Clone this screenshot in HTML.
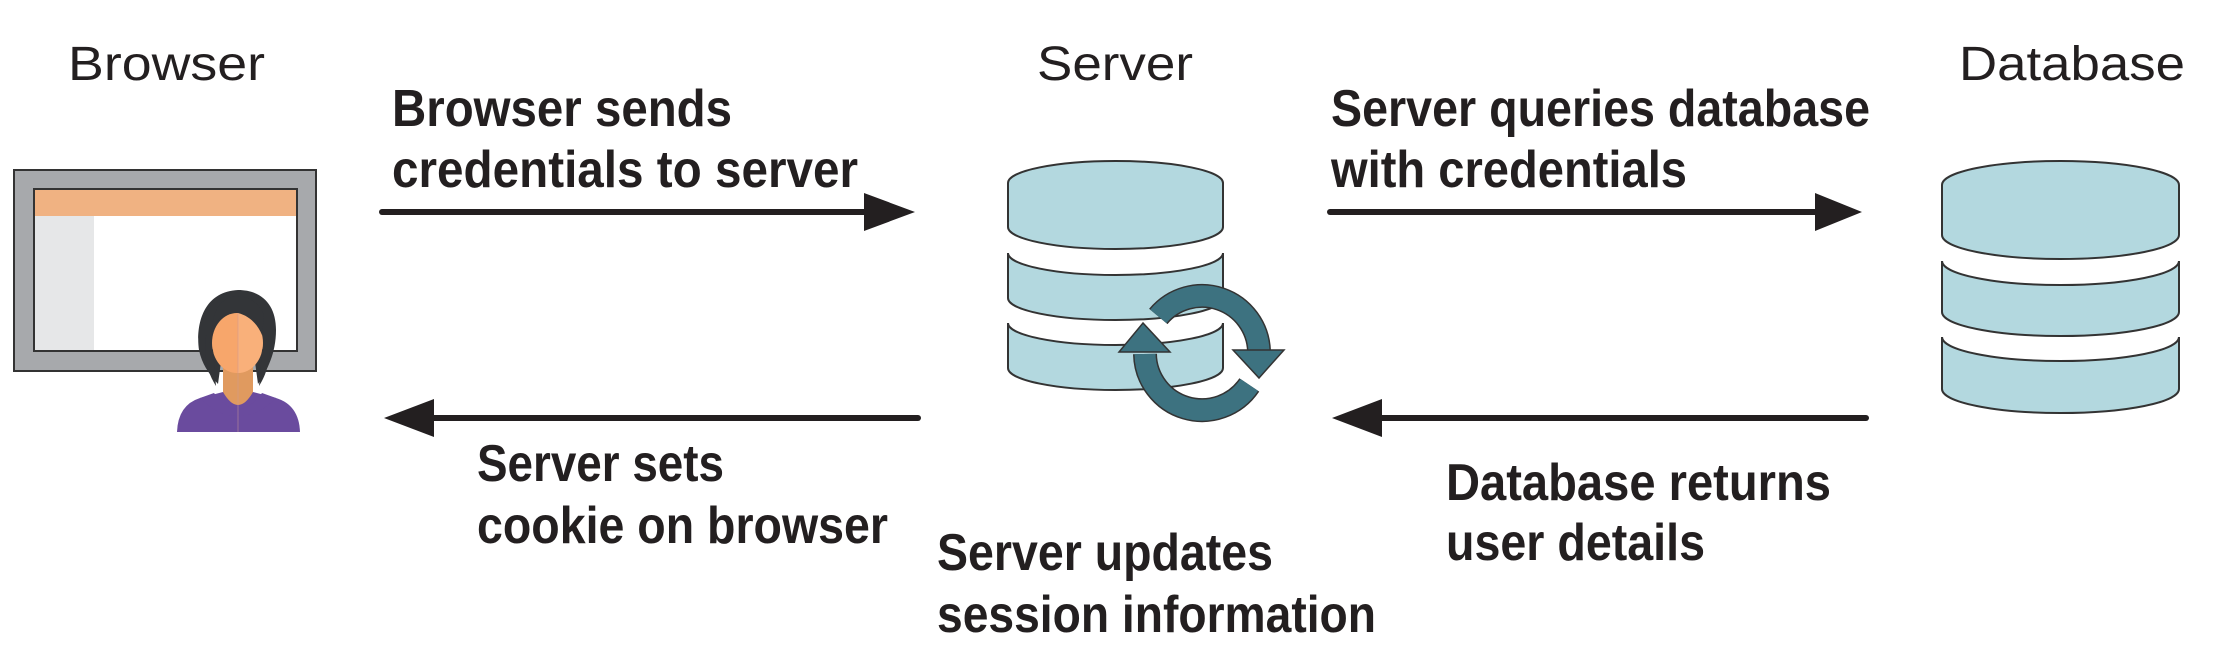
<!DOCTYPE html>
<html><head><meta charset="utf-8"><style>
html,body{margin:0;padding:0;background:#fff;}
svg{display:block;}
.lab{font-family:"Liberation Sans",sans-serif;font-size:48px;fill:#231f20;}
.b{font-family:"Liberation Sans",sans-serif;font-weight:bold;font-size:52px;fill:#231f20;}
</style></head><body>
<svg width="2234" height="672" viewBox="0 0 2234 672" xmlns="http://www.w3.org/2000/svg">
<text class="lab" x="68" y="80" textLength="197" lengthAdjust="spacingAndGlyphs">Browser</text>
<text class="lab" x="1037" y="80" textLength="156" lengthAdjust="spacingAndGlyphs">Server</text>
<text class="lab" x="1959" y="80" textLength="226" lengthAdjust="spacingAndGlyphs">Database</text>

<!-- browser window -->
<rect x="14" y="170" width="302" height="201" fill="#a7a9ac" stroke="#333" stroke-width="2"/>
<rect x="34" y="189" width="263" height="162" fill="#fff" stroke="#333" stroke-width="2"/>
<rect x="35" y="190" width="261" height="26" fill="#f0b282"/>
<rect x="35" y="216" width="59" height="134" fill="#e6e7e8"/>
<!-- person -->
<path d="M238,290 C200,292 196,330 199,350 C202,365 210,375 218,384 L224,340 L252,340 L258,384 C266,372 276,355 276,330 C276,305 262,290 238,290 Z" fill="#333538"/>
<path d="M177,432 Q178,405 200,398 L223,392 L253,392 L276,398 Q299,405 300,432 Z" fill="#6a4b9e"/>
<path d="M223,350 L253,350 L253,392 Q238,418 223,392 Z" fill="#e09a5f"/>
<path d="M200,398 Q220,418 238,415 Q256,418 276,398 L262,393 Q238,425 214,393 Z" fill="#6a4b9e"/>
<ellipse cx="237" cy="343" rx="25" ry="30" fill="#f7a66b"/>
<path d="M238,313 A25,30 0 0 1 238,373 Z" fill="#f9b07a"/>
<path d="M212,340 C212,318 225,312 238,313 C250,316 258,325 262,335 L264,315 C258,300 245,296 236,296 C220,298 210,312 212,340 Z" fill="#333538"/>
<path d="M206,335 C203,355 207,372 216,386 L213,350 Z" fill="#333538"/>
<path d="M268,335 C272,355 268,372 259,386 L262,350 Z" fill="#333538"/>
<line x1="238" y1="313" x2="238" y2="432" stroke="#c99" stroke-width="0.8" opacity="0.6"/>

<!-- arrows -->
<g stroke="#231f20" stroke-width="6" stroke-linecap="round">
<line x1="382" y1="212" x2="870" y2="212"/>
<line x1="918" y1="418" x2="430" y2="418"/>
<line x1="1330" y1="212" x2="1820" y2="212"/>
<line x1="1866" y1="418" x2="1378" y2="418"/>
</g>
<g fill="#231f20">
<polygon points="864,193 915,212 864,231"/>
<polygon points="434,399 384,418 434,437"/>
<polygon points="1815,193 1862,212 1815,231"/>
<polygon points="1382,399 1332,418 1382,437"/>
</g>

<!-- server cylinder -->
<g fill="#b3d8df" stroke="#333" stroke-width="2">
<path d="M1008,183 A107.5,22 0 0 1 1223,183 L1223,227 A107.5,22 0 0 1 1008,227 Z"/>
<path d="M1008,253 A107.5,22 0 0 0 1223,253 L1223,298 A107.5,22 0 0 1 1008,298 Z"/>
<path d="M1008,323 A107.5,22 0 0 0 1223,323 L1223,368 A107.5,22 0 0 1 1008,368 Z"/>
</g>
<!-- database cylinder -->
<g fill="#b3d8df" stroke="#333" stroke-width="2">
<path d="M1942,185 A118.5,24 0 0 1 2179,185 L2179,235 A118.5,24 0 0 1 1942,235 Z"/>
<path d="M1942,261 A118.5,24 0 0 0 2179,261 L2179,312 A118.5,24 0 0 1 1942,312 Z"/>
<path d="M1942,337 A118.5,24 0 0 0 2179,337 L2179,389 A118.5,24 0 0 1 1942,389 Z"/>
</g>

<!-- refresh icon -->
<g fill="none" stroke-linecap="butt">
<path d="M1158.3,316.4 A57,57 0 0 1 1259,351" stroke="#333" stroke-width="24"/>
<path d="M1158.3,316.4 A57,57 0 0 1 1259,351" stroke="#3d7280" stroke-width="21"/>
<path d="M1249.3,384.9 A57,57 0 0 1 1145,354" stroke="#333" stroke-width="24"/>
<path d="M1249.3,384.9 A57,57 0 0 1 1145,354" stroke="#3d7280" stroke-width="21"/>
</g>
<g fill="#3d7280" stroke="#333" stroke-width="1.5">
<polygon points="1233,350 1284,350 1259,378"/>
<polygon points="1119,352 1170,352 1143,323"/>
</g>

<!-- labels -->
<text class="b" x="392" y="126" textLength="340" lengthAdjust="spacingAndGlyphs">Browser sends</text>
<text class="b" x="392" y="187" textLength="466" lengthAdjust="spacingAndGlyphs">credentials to server</text>
<text class="b" x="1331" y="126" textLength="539" lengthAdjust="spacingAndGlyphs">Server queries database</text>
<text class="b" x="1331" y="187" textLength="356" lengthAdjust="spacingAndGlyphs">with credentials</text>
<text class="b" x="477" y="481" textLength="247" lengthAdjust="spacingAndGlyphs">Server sets</text>
<text class="b" x="477" y="543" textLength="411" lengthAdjust="spacingAndGlyphs">cookie on browser</text>
<text class="b" x="1446" y="500" textLength="385" lengthAdjust="spacingAndGlyphs">Database returns</text>
<text class="b" x="1446" y="560" textLength="259" lengthAdjust="spacingAndGlyphs">user details</text>
<text class="b" x="937" y="570" textLength="336" lengthAdjust="spacingAndGlyphs">Server updates</text>
<text class="b" x="937" y="632" textLength="439" lengthAdjust="spacingAndGlyphs">session information</text>
</svg>
</body></html>
